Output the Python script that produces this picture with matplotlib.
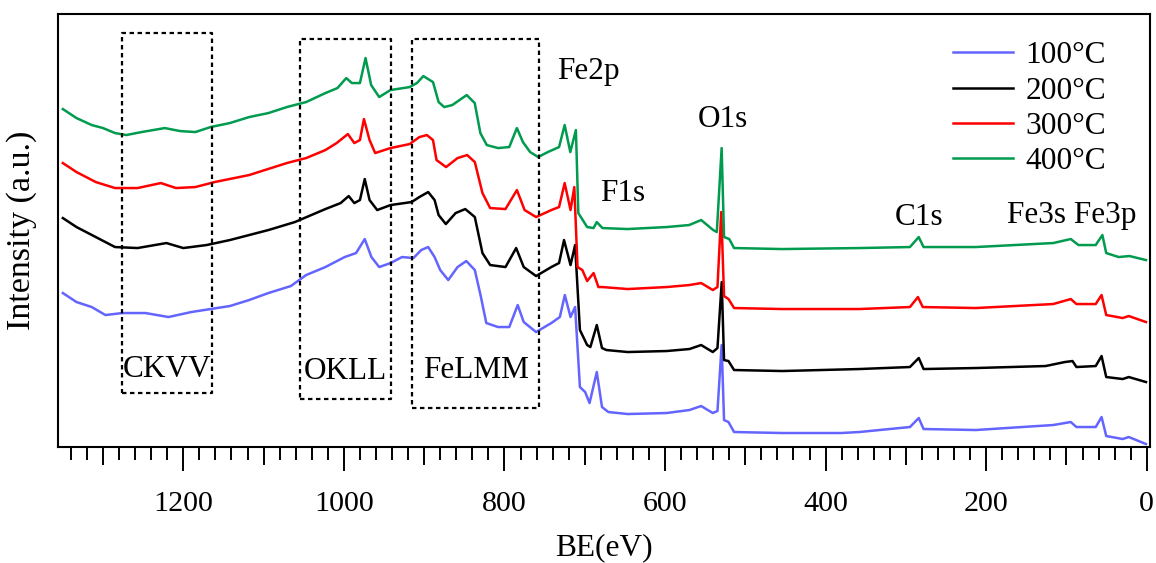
import matplotlib
matplotlib.use("Agg")
import matplotlib.pyplot as plt
from matplotlib.ticker import MultipleLocator, FixedLocator, NullFormatter

plt.rcParams['font.family'] = ['Liberation Serif', 'DejaVu Serif']

# binding energy (eV) / intensity (a.u.)
be_400 = [1350, 1333, 1314, 1300, 1285, 1271, 1252, 1223, 1204, 1185, 1166, 1142, 1118, 1094,
          1071, 1047, 1023, 1008, 997, 990, 980, 973, 966, 956, 942, 918, 909, 901, 889, 882,
          875, 865, 856, 847, 837, 830, 822, 808, 794, 784.5, 777, 768, 758, 746, 732, 725,
          718, 711, 708, 697, 689, 685, 678, 647, 598, 570, 555, 540, 535.5, 529.5, 526.5,
          520, 514, 454, 358, 295, 284, 278, 213, 116.5, 94.7, 85, 63.6, 55.3, 50.5, 35,
          21.6, 1]
i_400 = [338, 329, 322, 319, 314, 312, 315, 319, 316, 315, 320, 324, 330, 334,
         340, 345, 354, 359, 369, 364, 364, 389, 362, 350, 357, 360, 364, 371, 365, 345,
         340, 342, 347, 352, 344, 314, 302, 299, 300, 319, 305, 295, 290, 295, 300, 322,
         295, 317, 234, 220, 219, 225, 219, 218, 220, 222, 227, 217, 215, 299, 210,
         208, 199, 198, 199, 200, 210, 200, 200, 204, 208, 202, 202, 212, 194, 190,
         191, 187]

be_300 = [1350, 1333, 1309, 1285, 1257, 1228, 1209, 1185, 1161, 1118, 1071, 1047, 1023, 1009,
          995, 987, 980, 975, 968, 961, 942, 918, 906, 896.6, 889, 884.6, 872.7, 858.4,
          846.4, 836.9, 827.4, 817.8, 798.7, 784.5, 774.9, 760.6, 741.6, 732, 725, 717.7,
          713, 709, 703, 697, 689, 683, 678, 646.5, 598, 569.6, 555, 540.5, 534.7,
          530, 526.5, 521, 514, 454, 358, 295, 285, 279, 213, 116.5, 94.7, 87.6, 63.6,
          56.3, 50.5, 30, 22.4, 1]
i_300 = [284, 275, 265, 259, 259, 264, 259, 260, 265, 272, 284, 289, 297, 304,
         313, 304, 307, 328, 307, 294, 299, 303, 310, 312, 307, 287, 280, 289,
         292, 285, 254, 239, 238, 257, 237, 230, 237, 240, 264, 237,
         260, 180, 177, 166, 174, 160, 160, 158, 160, 162, 164, 157, 160,
         235, 151, 148, 139, 138, 138, 140, 150, 140, 139, 143, 148, 143, 143,
         152, 132, 129, 131, 125]

be_200 = [1350, 1333, 1309, 1285, 1257, 1221, 1200, 1171, 1142, 1118, 1094, 1061, 1023, 1004,
          994, 987, 980, 974, 968, 958.5, 941.8, 915.6, 906, 895, 887, 882, 873, 860.8,
          848.8, 836.9, 827.4, 817.8, 798.7, 785.4, 776, 760.6, 741.6, 732, 725.8, 717.7,
          712, 706, 697, 693, 685, 678.5, 673, 646.5, 598, 569.6, 555, 540.5, 534.7,
          529.4, 526.5, 521, 514, 454, 358, 295, 284, 278, 213, 126, 102, 92.5, 87.6,
          63.6, 56.3, 50.5, 30, 22.4, 1]
i_200 = [229, 220, 210, 200, 199, 204, 199, 202, 207, 212, 217, 225, 238, 244,
         251, 244, 247, 268, 247, 237, 242, 245, 250, 255, 247, 232, 223, 234,
         238, 230, 194, 182, 180, 199, 180, 171, 180, 184, 207, 182,
         202, 117, 102, 100, 122, 99, 97, 95, 96, 98, 102, 95, 99,
         165, 87, 86, 77, 76, 78, 80, 89, 78, 79, 81, 85, 86, 80,
         81, 91, 70, 68, 70, 65]

be_100 = [1350, 1333, 1314, 1297, 1276, 1247, 1218.5, 1190, 1166, 1142, 1118, 1094, 1066, 1047,
          1023, 999, 984.8, 974, 965.7, 956, 941.8, 927.6, 913.3, 903.7, 895, 887, 880, 870,
          858.4, 847.5, 836.9, 829.8, 822.6, 808, 794, 783.5, 776, 760.6, 741.6, 731, 724.8,
          717.7, 712, 706, 699.5, 694, 685, 678.5, 670.6, 646.5, 598, 569.6, 555, 540.5,
          534.7, 529.5, 526.5, 521, 514, 454, 381, 358, 295, 284, 278, 213, 116.5, 94.7,
          87.6, 63.6, 56.3, 50.5, 30, 22.4, 1]
i_100 = [154, 145, 140, 132, 134, 134, 130, 135, 138, 141, 147, 154, 161, 172,
         180, 190, 194, 208, 190, 180, 184, 190, 189, 197, 200, 190, 177, 167,
         180, 186, 177, 152, 124, 120, 120, 142, 125, 115, 124, 130, 152,
         130, 140, 60, 55, 44, 75, 40, 35, 33, 34, 37, 41, 34,
         36, 102, 27, 25, 15, 14, 14, 15, 20, 29, 18, 17, 22, 25,
         20, 20, 30, 11, 8, 10, 3]

labels = ['100°C', '200°C', '300°C', '400°C']
colors = ['#6464ff', '#000000', '#ff0000', '#009b4e']

# peak labels: text, BE, intensity (baseline)
peak_text = ['Fe2p', 'O1s', 'F1s', 'C1s', 'Fe3s Fe3p']
peak_be = [695.5, 528.5, 653, 284, 93.5]
peak_int = [368, 320, 246, 222, 224]

# Auger regions: text, BE span, intensity span, label intensity
auger_text = ['CKVV', 'OKLL', 'FeLMM']
auger_be = [(1276.7, 1163.7), (1054.8, 941.8), (914.6, 756.8)]
auger_int = [(53.7, 414.3), (48, 408), (39.3, 407.7)]
auger_lab = [70, 68, 69]

fig = plt.figure(figsize=(11.56, 5.63), dpi=100)
ax = fig.add_axes([0.0502, 0.206, 0.9446, 0.769])

series = [(be_100, i_100), (be_200, i_200), (be_300, i_300), (be_400, i_400)]
for (x, y), lab, c in zip(series, labels, colors):
    ax.plot(x, y, color=c, lw=1.8, label=lab)

for t, (b0, b1), (y0, y1), yl in zip(auger_text, auger_be, auger_int, auger_lab):
    ax.plot([b0, b1, b1, b0, b0], [y0, y0, y1, y1, y0], color='black', lw=1.6,
            linestyle=(0, (2, 1.6)))
    ax.text((b0 + b1) / 2, yl, t, fontsize=22.5, ha='center', va='baseline')

for t, b, y in zip(peak_text, peak_be, peak_int):
    ax.text(b, y, t, fontsize=22.5, ha='center', va='baseline')

ax.set_xlim(1356, -4)
ax.set_ylim(0, 433)
ax.set_yticks([])
ax.xaxis.set_major_locator(MultipleLocator(200))
minor_pos = [v for v in range(0, 1360, 20) if v % 100 != 0]
ax.xaxis.set_minor_locator(FixedLocator(minor_pos))
ax.tick_params(axis='x', which='major', length=17, width=1.4, labelsize=21.6, pad=15)
ax.tick_params(axis='x', which='minor', length=9.4, width=1.4)
for s in ax.spines.values():
    s.set_linewidth(1.5)

# medium ticks at odd hundreds
sec = ax.secondary_xaxis('bottom')
sec.xaxis.set_major_locator(FixedLocator([100, 300, 500, 700, 900, 1100, 1300]))
sec.xaxis.set_major_formatter(NullFormatter())
sec.tick_params(axis='x', length=13, width=1.4)
sec.spines['bottom'].set_visible(False)

ax.set_xlabel('BE(eV)', fontsize=22.6, labelpad=11)
ax.set_ylabel('Intensity (a.u.)', fontsize=24.5, labelpad=15)

ax.legend(loc='upper right', bbox_to_anchor=(0.96, 0.937), frameon=False, fontsize=22.6,
          handlelength=1.9, handletextpad=0.42, labelspacing=0.2, borderpad=0,
          borderaxespad=0)

fig.savefig('out.png', dpi=100)
